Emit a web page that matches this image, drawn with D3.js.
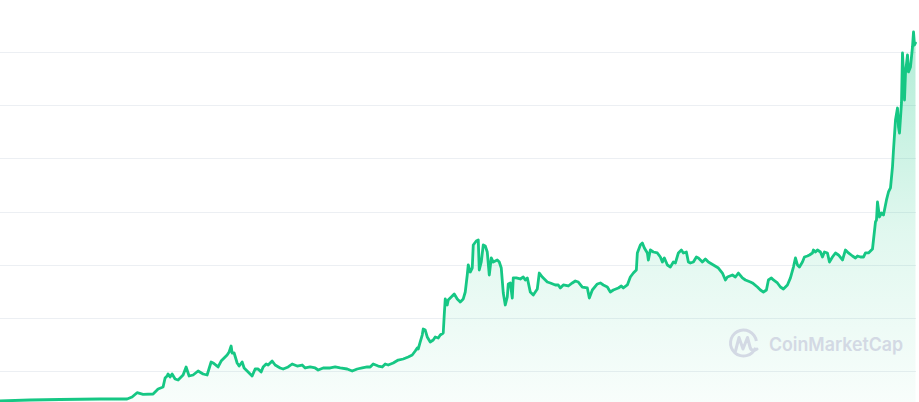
<!DOCTYPE html>
<html>
<head>
<meta charset="utf-8">
<script src="https://cdn.jsdelivr.net/npm/d3@7"></script>
<style>
  html, body { margin: 0; padding: 0; background: #ffffff; }
  svg { display: block; }
</style>
</head>
<body>
<svg id="chart" width="919" height="402"></svg>
<script>
// Sample positions (week index) and series values (arbitrary price units)
const weeks = [0,30,60,100,127,132,137,143,153,158,163,165,167,168,170,172,175,178,183,186,189,193,198,203,207,211,213,217,218,221,225,227,229,231,232,234,237,239,242,244,248,252,255,258,261,263,266,268,272,275,280,283,288,292,297,302,305,310,315,318,323,330,335,340,347,352,357,362,367,370,373,378,382,385,388,393,398,403,408,412,415,417,418,420,422,423,425,427,430,433,435,438,440,443,444,445,447,448,452,454,457,460,463,465,467,468,470,472,473,476,478,479,481,483,485,487,489,491,493,497,499,501,503,505,507,508,510,512,513,516,520,523,525,527,530,533,537,539,542,544,547,550,555,558,560,563,568,572,575,578,582,587,589,592,597,600,603,607,610,613,618,621,623,627,630,633,636,637,640,642,644,647,648,650,653,657,660,662,664,667,670,673,675,678,681,683,686,688,690,693,696,698,702,705,708,713,718,722,725,727,732,735,738,742,745,750,752,757,760,763,766,768,771,773,777,780,783,787,790,793,795,797,799,802,804,807,809,812,813,815,817,820,822,824,827,829,832,835,838,842,845,848,852,855,857,860,863,865,868,872,873,875,876,877,879,881,883,886,888,890,892,893,895,897,898,899,901,902,903,904,905,907,908,910,912,913,914,915];
const prices = [4.38,4.57,4.66,4.76,4.76,5.13,5.94,5.64,5.70,6.64,7.01,8.71,9.08,9.46,8.90,9.46,8.52,8.33,9.27,10.78,9.08,9.27,10.02,9.46,9.27,11.72,11.53,10.96,10.78,11.90,12.66,13.03,13.60,14.72,13.41,13.41,11.53,10.96,11.72,10.59,9.84,9.08,10.40,10.40,9.84,10.78,11.34,11.15,11.90,11.15,10.59,10.40,10.78,11.34,10.96,11.15,10.59,10.78,10.59,10.21,10.59,10.59,10.78,10.59,10.40,10.02,10.40,10.59,10.78,10.78,11.34,10.96,10.78,11.34,11.15,11.53,12.09,12.28,12.66,13.03,13.78,14.35,14.16,15.48,16.79,17.92,17.73,16.42,15.48,15.85,16.42,16.23,16.79,17.17,20.55,23.57,22.44,23.38,24.13,24.51,23.57,23.00,23.57,24.88,28.08,29.96,28.64,29.39,33.72,34.47,34.66,29.02,30.52,33.72,33.53,32.40,28.08,31.28,30.52,30.90,30.52,29.39,24.69,22.44,23.94,26.39,26.58,23.75,27.53,27.53,27.33,27.70,27.14,27.53,24.88,24.32,25.45,28.45,27.70,27.33,26.76,26.58,26.20,26.20,25.64,26.20,26.01,26.58,26.95,26.76,25.82,25.64,23.75,25.26,26.39,26.58,26.20,25.82,24.88,25.26,25.64,26.01,25.64,26.20,27.70,28.45,29.02,32.22,33.72,34.10,33.16,32.22,30.90,32.78,32.40,32.22,31.46,30.52,31.28,29.96,29.58,30.52,30.33,32.22,32.78,32.22,32.40,30.52,30.33,30.52,31.46,31.28,30.52,31.09,30.52,29.96,29.39,28.45,27.14,27.70,28.08,27.70,28.45,27.53,27.14,26.76,26.58,25.82,25.26,24.88,25.26,27.14,27.53,27.14,26.58,25.82,25.45,26.20,27.53,29.58,31.28,29.96,29.58,30.52,31.46,31.65,31.84,32.22,32.78,32.40,32.78,32.40,31.46,32.40,32.22,30.52,31.46,32.22,31.84,30.90,32.78,32.22,31.65,31.28,31.65,31.46,31.46,32.22,32.22,32.97,34.66,38.05,38.42,41.81,38.99,39.74,39.36,42.19,43.69,44.44,48.39,51.59,57.23,59.48,55.91,54.78,60.43,69.83,66.07,60.99,66.07,69.45,66.26,67.20,70.96,73.78,71.33,71.71];
const gridValues = [10,20,30,40,50,60,70];
const watermarkText = "CoinMarketCap";

const data = weeks.map((w, i) => ({ w, v: prices[i] }));

const W = 919, H = 402;
const svg = d3.select("#chart");

const x = d3.scaleLinear().domain([0, 915]).range([0, 915.5]);
const y = d3.scaleLinear().domain([0, 80]).range([424.3, -1.1]);

const defs = svg.append("defs");
const grad = defs.append("linearGradient")
  .attr("id", "fillGrad")
  .attr("gradientUnits", "userSpaceOnUse")
  .attr("x1", 0).attr("x2", 0)
  .attr("y1", y(75)).attr("y2", H);
grad.append("stop").attr("offset", "0%").attr("stop-color", "#16c784").attr("stop-opacity", 0.34);
grad.append("stop").attr("offset", "55%").attr("stop-color", "#16c784").attr("stop-opacity", 0.13);
grad.append("stop").attr("offset", "100%").attr("stop-color", "#16c784").attr("stop-opacity", 0.03);

// gridlines via axis
const gridAxis = d3.axisLeft(y).tickValues(gridValues).tickSize(-916).tickFormat("");
const g = svg.append("g").attr("class", "grid").call(gridAxis);
g.select(".domain").remove();
g.selectAll(".tick line").attr("stroke", "#eceff3").attr("stroke-width", 1).attr("shape-rendering", "crispEdges");

// area
const area = d3.area().x(d => x(d.w)).y0(H + 5).y1(d => y(d.v));
svg.append("path").datum(data).attr("d", area).attr("fill", "url(#fillGrad)");

// watermark
const wm = svg.append("g");
wm.append("path")
  .attr("d", d3.arc()({innerRadius: 11.5, outerRadius: 14.5, startAngle: Math.PI * 0.62, endAngle: Math.PI * 2.45}))
  .attr("transform", "translate(743.5,343)")
  .attr("fill", "#d3d9e4");
wm.append("path")
  .attr("d", "M735.5,351 L739,337.5 L743,349 L747.5,337.5 L750,347 C751,351 754,351 757,349")
  .attr("fill", "none")
  .attr("stroke", "#d3d9e4")
  .attr("stroke-width", 3)
  .attr("stroke-linejoin", "round")
  .attr("stroke-linecap", "round");
wm.append("text")
  .attr("x", 769).attr("y", 350.5)
  .attr("font-family", "Inter, 'Noto Sans', sans-serif")
  .attr("font-weight", 600)
  .attr("font-size", 18.5)
  .attr("textLength", 134)
  .attr("lengthAdjust", "spacingAndGlyphs")
  .attr("fill", "#d3d9e4")
  .text(watermarkText);

// line
const line = d3.line().x(d => x(d.w)).y(d => y(d.v));
svg.append("path").datum(data).attr("d", line)
  .attr("fill", "none")
  .attr("stroke", "#16c784")
  .attr("stroke-width", 2.8)
  .attr("stroke-linejoin", "round")
  .attr("stroke-linecap", "round");
</script>
</body>
</html>
